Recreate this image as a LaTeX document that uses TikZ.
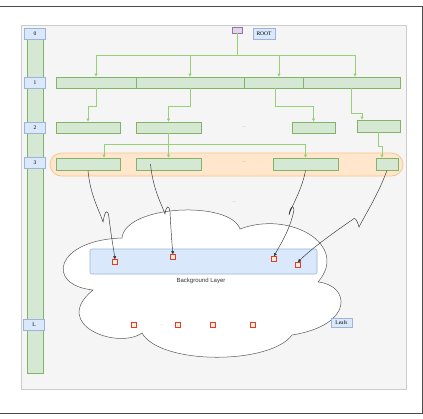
\documentclass[tikz,border=0pt]{standalone}
\usepackage{fontspec}
\setmainfont{Liberation Serif}
\newfontfamily\labelsans{Liberation Sans}
\usetikzlibrary{arrows.meta}
\definecolor{boxgreen}{HTML}{D5E8D4}
\definecolor{edgegreen}{HTML}{82B366}
\definecolor{linkgreen}{HTML}{97D077}
\definecolor{tagblue}{HTML}{DAE8FC}
\definecolor{edgeblue}{HTML}{9DB4D8}
\definecolor{bandorange}{HTML}{FFE6CC}
\definecolor{edgeorange}{HTML}{F5C48A}
\definecolor{rootpink}{HTML}{E1D5E7}
\definecolor{edgepink}{HTML}{9673A6}
\definecolor{panelgray}{HTML}{F5F5F5}
\definecolor{leafred}{HTML}{E53935}
\definecolor{leafyellow}{HTML}{FFF2CC}
\tikzset{
    tag/.style={draw=edgeblue,fill=tagblue,inner sep=0pt,minimum width=21pt,
        minimum height=11pt,font=\fontsize{5.5}{6}\selectfont},
    cell/.style={draw=edgegreen,fill=boxgreen,line width=0.8pt,inner sep=0pt,minimum height=11pt},
    link/.style={draw=linkgreen,line width=0.6pt,-{Triangle[length=3pt,width=3pt]}},
    pointer/.style={draw=black!80,line width=0.45pt,-{Triangle[length=3pt,width=3pt]}},
    leaf/.style={draw=leafred,fill=leafyellow,line width=0.7pt,inner sep=0pt,minimum size=5pt},
    dots/.style={font=\fontsize{4}{4}\selectfont,text=gray},
}
\newcommand\LevelTag[4]{% name, x, y, text
    \node[tag] (#1) at (#2,#3) {#4};
}

\begin{document}
\begin{tikzpicture}[x=1pt,y=-1pt]
    \useasboundingbox (0,0) rectangle (423,418);
    % frame and panel
    \draw[black!70,line width=0.9pt] (-2,6) -- (422,6) -- (422,413) -- (-2,413);
    \draw[fill=panelgray,draw=black!20,line width=0.8pt] (21,25) rectangle (406,389);
    % level column
    \draw[draw=edgegreen,fill=boxgreen,line width=0.8pt] (27,33) rectangle (43,373);
    \LevelTag{lvl0}{35}{34}{0}
    \LevelTag{lvl1}{35}{82.5}{1}
    \LevelTag{lvl2}{35}{127.5}{2}
    \LevelTag{lvl3}{35}{163}{3}
    \LevelTag{lvlL}{34}{325}{L}

    % root
    \node[draw=edgepink,fill=rootpink,minimum width=10pt,minimum height=6pt,inner sep=0pt] (root) at (237,30) {};
    \node[tag,minimum width=22pt] (rootname) at (264,34) {ROOT};

    % level 1
    \node[cell,minimum width=80pt] (n1a) at (96,82.5) {};
    \node[cell,minimum width=108pt] (n1b) at (190,82.5) {};
    \node[cell,minimum width=59pt] (n1c) at (273.5,82.5) {};
    \node[cell,minimum width=97pt] (n1d) at (351.5,82.5) {};
    \coordinate (bus1) at (237,55);
    \draw[linkgreen,line width=0.6pt] (root.south) -- (bus1);
    \draw[link] (bus1) -| (n1a.north);
    \draw[link] (bus1) -| (n1b.north);
    \draw[link] (bus1) -| ([xshift=5.5pt]n1c.north);
    \draw[link] (bus1) -| ([xshift=3.5pt]n1d.north);

    % level 2
    \node[cell,minimum width=64pt] (n2a) at (88,127.5) {};
    \node[cell,minimum width=65pt] (n2b) at (168.5,127.5) {};
    \node[cell,minimum width=43pt] (n2c) at (313.5,127.5) {};
    \node[cell,minimum width=43pt,minimum height=12pt] (n2d) at (378.5,126) {};
    \node[dots] (dots2) at (244,127) {...};
    \draw[link] (n1a.south) -- ++(0,18) -| (n2a.north);
    \draw[link] (n1b.south) -- ++(0,18) -| (n2b.north);
    \draw[link] ([xshift=1.5pt]n1c.south) -- ++(0,18) -| (n2c.north);
    \draw[link] (n1d.south) -- ++(0,25) -| ([xshift=-16.5pt]n2d.north);

    % level 3
    \node[draw=edgeorange,fill=bandorange,rounded corners=11.5pt,line width=0.7pt,
        minimum width=353pt,minimum height=23pt,inner sep=0pt] (band) at (226.5,164.5) {};
    \node[cell,minimum width=64pt,minimum height=12pt] (n3a) at (88,164) {};
    \node[cell,minimum width=65pt,minimum height=12pt] (n3b) at (168.5,164) {};
    \node[cell,minimum width=65pt,minimum height=12pt] (n3c) at (305.5,164) {};
    \node[cell,minimum width=22pt,minimum height=12pt] (n3d) at (387,164) {};
    \node[dots] (dots3) at (244,162) {...};
    \coordinate (bus3) at (168.5,144);
    \draw[link] (n2b.south) -- (n3b.north);
    \draw[link] (bus3) -| ([xshift=16pt]n3a.north);
    \draw[link] (bus3) -| (n3c.north);
    \draw[link,line width=0.4pt] (n2d.south) -- ++(0,14) -| ([xshift=-5pt]n3d.north);

    \node[dots] (dotsmid) at (234,202) {...};

    % cloud
    \draw[fill=white,draw=black!65,line width=0.5pt]
        (93,290) .. controls (45,285) and (55,240) .. (122,238)
        .. controls (125,205) and (230,200) .. (240,229)
        .. controls (290,210) and (350,245) .. (318,282)
        .. controls (350,285) and (355,325) .. (292,335)
        .. controls (270,365) and (160,365) .. (142,333)
        .. controls (118,350) and (50,325) .. cycle;
    \node[draw=edgeblue,fill=tagblue,rounded corners=2pt,line width=0.6pt,inner sep=0pt,
        minimum width=227pt,minimum height=25pt] (bglayer) at (203.5,261.5) {};
    \node[font=\labelsans\fontsize{6}{7}\selectfont,text=black!80] (bgname) at (201,281) {Background Layer};
    \node[leaf] (s1) at (115,262) {};
    \node[leaf] (s2) at (173,257) {};
    \node[leaf] (s3) at (274,259) {};
    \node[leaf] (s4) at (298,265) {};
    \node[leaf] (t1) at (134,325) {};
    \node[dots] (dotsleaf) at (162,325) {...};
    \node[leaf] (t2) at (178,325) {};
    \node[leaf] (t3) at (213,325) {};
    \node[leaf] (t4) at (253,325) {};
    \node[tag,minimum height=9pt] (leafname) at (341.5,322.5) {Leafs};

    % pointers into the background layer
    \draw[pointer] (n3a.south) .. controls (90,195) and (100,212) .. (103,222)
        .. controls (105,210) and (108,208) .. (109,218)
        .. controls (111,235) and (113,245) .. (s1.north);
    \draw[pointer] ([xshift=-18pt]n3b.center) .. controls (153,190) and (162,205) .. (165,214)
        .. controls (166,206) and (169,204) .. (170,212)
        .. controls (171,230) and (172,245) .. (s2.north);
    \draw[pointer] (n3c.south) .. controls (302,190) and (292,205) .. (289,215)
        .. controls (290,207) and (293,204) .. (294,210)
        .. controls (290,230) and (280,245) .. (s3.north);
    \draw[pointer] (n3d.south) .. controls (378,195) and (365,215) .. (359,227)
        .. controls (357,220) and (355,216) .. (352,220)
        .. controls (330,235) and (310,250) .. (s4.north);
\end{tikzpicture}
\end{document}
